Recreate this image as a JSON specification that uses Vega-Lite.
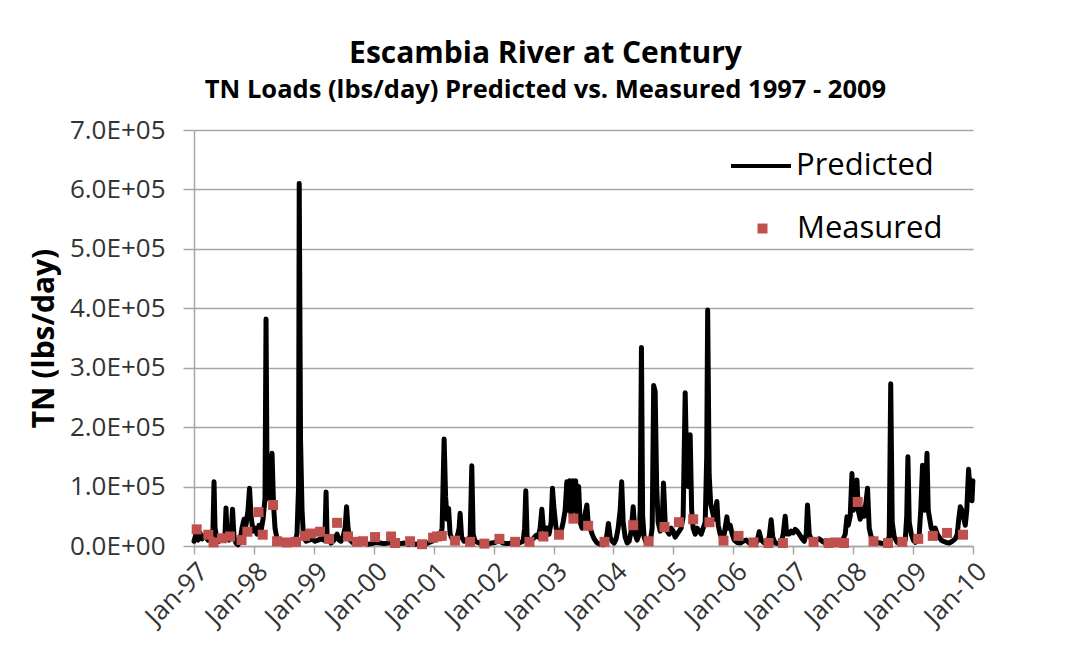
{
  "$schema": "https://vega.github.io/schema/vega-lite/v6.json",
  "autosize": "none",
  "width": 779,
  "height": 416,
  "padding": {"left": 194, "top": 130, "right": 103, "bottom": 104},
  "background": "white",
  "config": {
    "font": "Open Sans",
    "view": {"stroke": null},
    "axis": {"labelFont": "Open Sans", "titleFont": "Open Sans", "labelColor": "#333333", "titleColor": "#000000"}
  },
  "title": {
    "text": "Escambia River at Century",
    "subtitle": "TN Loads (lbs/day) Predicted vs. Measured 1997 - 2009",
    "font": "Open Sans",
    "fontSize": 30,
    "fontWeight": "bold",
    "color": "#000000",
    "subtitleFont": "Open Sans",
    "subtitleFontSize": 25.5,
    "subtitleFontWeight": "bold",
    "subtitleColor": "#000000",
    "subtitlePadding": 9,
    "anchor": "middle",
    "dx": -38,
    "offset": 14
  },
  "datasets": {
    "predicted": [
      {"t":1997.000,"v":8000},{"t":1997.033,"v":20000},{"t":1997.067,"v":10000},{"t":1997.100,"v":22000},{"t":1997.134,"v":12000},{"t":1997.184,"v":18000},{"t":1997.234,"v":10000},{"t":1997.284,"v":15000},{"t":1997.317,"v":30000},{"t":1997.334,"v":108000},{"t":1997.351,"v":30000},{"t":1997.384,"v":12000},{"t":1997.417,"v":8000},{"t":1997.451,"v":15000},{"t":1997.484,"v":10000},{"t":1997.518,"v":20000},{"t":1997.534,"v":64000},{"t":1997.551,"v":20000},{"t":1997.584,"v":10000},{"t":1997.618,"v":15000},{"t":1997.643,"v":62000},{"t":1997.668,"v":15000},{"t":1997.701,"v":5000},{"t":1997.735,"v":2000},{"t":1997.768,"v":8000},{"t":1997.801,"v":30000},{"t":1997.835,"v":45000},{"t":1997.868,"v":35000},{"t":1997.901,"v":60000},{"t":1997.927,"v":97000},{"t":1997.952,"v":50000},{"t":1997.985,"v":25000},
      {"t":1998.018,"v":30000},{"t":1998.052,"v":20000},{"t":1998.085,"v":35000},{"t":1998.118,"v":25000},{"t":1998.152,"v":45000},{"t":1998.185,"v":80000},{"t":1998.202,"v":382000},{"t":1998.219,"v":120000},{"t":1998.244,"v":80000},{"t":1998.269,"v":150000},{"t":1998.285,"v":90000},{"t":1998.302,"v":156000},{"t":1998.327,"v":70000},{"t":1998.352,"v":30000},{"t":1998.386,"v":12000},{"t":1998.436,"v":8000},{"t":1998.486,"v":5000},{"t":1998.536,"v":6000},{"t":1998.586,"v":4000},{"t":1998.636,"v":5000},{"t":1998.686,"v":8000},{"t":1998.719,"v":20000},{"t":1998.745,"v":100000},{"t":1998.756,"v":610000},{"t":1998.778,"v":178000},{"t":1998.803,"v":60000},{"t":1998.828,"v":15000},{"t":1998.870,"v":8000},{"t":1998.920,"v":10000},{"t":1998.970,"v":12000},
      {"t":1999.020,"v":8000},{"t":1999.070,"v":10000},{"t":1999.120,"v":12000},{"t":1999.170,"v":10000},{"t":1999.187,"v":25000},{"t":1999.204,"v":91000},{"t":1999.220,"v":20000},{"t":1999.254,"v":10000},{"t":1999.287,"v":5000},{"t":1999.320,"v":8000},{"t":1999.354,"v":12000},{"t":1999.387,"v":20000},{"t":1999.421,"v":10000},{"t":1999.454,"v":8000},{"t":1999.487,"v":15000},{"t":1999.521,"v":30000},{"t":1999.546,"v":66000},{"t":1999.571,"v":30000},{"t":1999.604,"v":10000},{"t":1999.654,"v":5000},{"t":1999.704,"v":6000},{"t":1999.771,"v":4000},{"t":1999.838,"v":5000},{"t":1999.905,"v":3000},{"t":1999.972,"v":4000},
      {"t":2000.038,"v":6000},{"t":2000.105,"v":5000},{"t":2000.172,"v":4000},{"t":2000.239,"v":5000},{"t":2000.305,"v":6000},{"t":2000.372,"v":3000},{"t":2000.439,"v":4000},{"t":2000.506,"v":5000},{"t":2000.573,"v":3000},{"t":2000.639,"v":4000},{"t":2000.706,"v":3000},{"t":2000.773,"v":4000},{"t":2000.840,"v":3000},{"t":2000.906,"v":5000},{"t":2000.973,"v":8000},
      {"t":2001.040,"v":12000},{"t":2001.107,"v":15000},{"t":2001.140,"v":30000},{"t":2001.174,"v":180000},{"t":2001.199,"v":83000},{"t":2001.224,"v":45000},{"t":2001.249,"v":63000},{"t":2001.274,"v":20000},{"t":2001.307,"v":12000},{"t":2001.357,"v":10000},{"t":2001.391,"v":15000},{"t":2001.424,"v":30000},{"t":2001.441,"v":55000},{"t":2001.466,"v":15000},{"t":2001.507,"v":8000},{"t":2001.557,"v":10000},{"t":2001.608,"v":15000},{"t":2001.636,"v":135000},{"t":2001.658,"v":20000},{"t":2001.691,"v":8000},{"t":2001.758,"v":5000},{"t":2001.825,"v":4000},{"t":2001.891,"v":3000},{"t":2001.958,"v":5000},
      {"t":2002.025,"v":6000},{"t":2002.075,"v":10000},{"t":2002.108,"v":8000},{"t":2002.158,"v":5000},{"t":2002.225,"v":4000},{"t":2002.292,"v":5000},{"t":2002.359,"v":4000},{"t":2002.426,"v":5000},{"t":2002.492,"v":8000},{"t":2002.517,"v":30000},{"t":2002.537,"v":93000},{"t":2002.559,"v":15000},{"t":2002.609,"v":8000},{"t":2002.659,"v":12000},{"t":2002.709,"v":18000},{"t":2002.743,"v":15000},{"t":2002.776,"v":30000},{"t":2002.805,"v":62000},{"t":2002.826,"v":35000},{"t":2002.860,"v":25000},{"t":2002.893,"v":30000},{"t":2002.926,"v":20000},{"t":2002.960,"v":40000},{"t":2002.982,"v":97000},
      {"t":2003.010,"v":60000},{"t":2003.043,"v":30000},{"t":2003.077,"v":20000},{"t":2003.127,"v":25000},{"t":2003.160,"v":40000},{"t":2003.193,"v":60000},{"t":2003.222,"v":108000},{"t":2003.244,"v":60000},{"t":2003.269,"v":110000},{"t":2003.294,"v":50000},{"t":2003.319,"v":110000},{"t":2003.344,"v":60000},{"t":2003.369,"v":110000},{"t":2003.394,"v":50000},{"t":2003.419,"v":100000},{"t":2003.444,"v":40000},{"t":2003.477,"v":30000},{"t":2003.511,"v":45000},{"t":2003.556,"v":69000},{"t":2003.577,"v":40000},{"t":2003.611,"v":30000},{"t":2003.644,"v":20000},{"t":2003.678,"v":12000},{"t":2003.728,"v":5000},{"t":2003.778,"v":3000},{"t":2003.828,"v":2000},{"t":2003.878,"v":10000},{"t":2003.916,"v":38000},{"t":2003.945,"v":15000},{"t":2003.978,"v":8000},
      {"t":2004.011,"v":5000},{"t":2004.045,"v":12000},{"t":2004.078,"v":30000},{"t":2004.112,"v":60000},{"t":2004.137,"v":108000},{"t":2004.162,"v":40000},{"t":2004.195,"v":15000},{"t":2004.229,"v":5000},{"t":2004.262,"v":8000},{"t":2004.295,"v":25000},{"t":2004.329,"v":66000},{"t":2004.362,"v":20000},{"t":2004.395,"v":10000},{"t":2004.429,"v":20000},{"t":2004.446,"v":60000},{"t":2004.467,"v":334000},{"t":2004.487,"v":50000},{"t":2004.512,"v":15000},{"t":2004.546,"v":5000},{"t":2004.579,"v":4000},{"t":2004.612,"v":6000},{"t":2004.646,"v":30000},{"t":2004.671,"v":270000},{"t":2004.696,"v":260000},{"t":2004.721,"v":100000},{"t":2004.746,"v":40000},{"t":2004.780,"v":25000},{"t":2004.813,"v":40000},{"t":2004.835,"v":106000},{"t":2004.863,"v":40000},{"t":2004.896,"v":25000},{"t":2004.930,"v":20000},{"t":2004.963,"v":30000},{"t":2004.997,"v":25000},
      {"t":2005.030,"v":15000},{"t":2005.063,"v":20000},{"t":2005.097,"v":25000},{"t":2005.130,"v":30000},{"t":2005.163,"v":50000},{"t":2005.197,"v":258000},{"t":2005.222,"v":130000},{"t":2005.247,"v":100000},{"t":2005.280,"v":187000},{"t":2005.305,"v":60000},{"t":2005.330,"v":30000},{"t":2005.364,"v":20000},{"t":2005.397,"v":30000},{"t":2005.430,"v":25000},{"t":2005.464,"v":20000},{"t":2005.497,"v":30000},{"t":2005.531,"v":40000},{"t":2005.556,"v":150000},{"t":2005.572,"v":397000},{"t":2005.597,"v":120000},{"t":2005.623,"v":70000},{"t":2005.648,"v":60000},{"t":2005.681,"v":45000},{"t":2005.726,"v":75000},{"t":2005.748,"v":35000},{"t":2005.781,"v":20000},{"t":2005.815,"v":10000},{"t":2005.848,"v":20000},{"t":2005.893,"v":49000},{"t":2005.915,"v":30000},{"t":2005.948,"v":35000},{"t":2005.982,"v":20000},
      {"t":2006.015,"v":10000},{"t":2006.065,"v":6000},{"t":2006.115,"v":5000},{"t":2006.165,"v":8000},{"t":2006.215,"v":10000},{"t":2006.265,"v":5000},{"t":2006.315,"v":3000},{"t":2006.365,"v":5000},{"t":2006.399,"v":8000},{"t":2006.432,"v":24000},{"t":2006.466,"v":10000},{"t":2006.516,"v":5000},{"t":2006.566,"v":8000},{"t":2006.599,"v":15000},{"t":2006.632,"v":44000},{"t":2006.658,"v":15000},{"t":2006.699,"v":5000},{"t":2006.749,"v":4000},{"t":2006.799,"v":6000},{"t":2006.833,"v":20000},{"t":2006.866,"v":50000},{"t":2006.891,"v":20000},{"t":2006.933,"v":20000},{"t":2006.966,"v":25000},
      {"t":2007.000,"v":22000},{"t":2007.033,"v":28000},{"t":2007.067,"v":25000},{"t":2007.100,"v":20000},{"t":2007.150,"v":12000},{"t":2007.183,"v":8000},{"t":2007.217,"v":20000},{"t":2007.238,"v":69000},{"t":2007.267,"v":20000},{"t":2007.300,"v":12000},{"t":2007.334,"v":8000},{"t":2007.384,"v":10000},{"t":2007.434,"v":12000},{"t":2007.484,"v":8000},{"t":2007.534,"v":5000},{"t":2007.584,"v":4000},{"t":2007.634,"v":3000},{"t":2007.684,"v":4000},{"t":2007.734,"v":5000},{"t":2007.784,"v":8000},{"t":2007.834,"v":12000},{"t":2007.868,"v":20000},{"t":2007.896,"v":49000},{"t":2007.918,"v":35000},{"t":2007.951,"v":50000},{"t":2007.980,"v":122000},
      {"t":2008.001,"v":60000},{"t":2008.035,"v":70000},{"t":2008.063,"v":111000},{"t":2008.085,"v":60000},{"t":2008.118,"v":45000},{"t":2008.152,"v":64000},{"t":2008.185,"v":50000},{"t":2008.210,"v":70000},{"t":2008.240,"v":97000},{"t":2008.268,"v":30000},{"t":2008.302,"v":15000},{"t":2008.352,"v":10000},{"t":2008.402,"v":6000},{"t":2008.452,"v":5000},{"t":2008.502,"v":4000},{"t":2008.552,"v":6000},{"t":2008.602,"v":15000},{"t":2008.627,"v":273000},{"t":2008.652,"v":40000},{"t":2008.686,"v":15000},{"t":2008.736,"v":6000},{"t":2008.786,"v":4000},{"t":2008.836,"v":5000},{"t":2008.869,"v":10000},{"t":2008.894,"v":50000},{"t":2008.914,"v":150000},{"t":2008.936,"v":40000},{"t":2008.970,"v":20000},
      {"t":2009.003,"v":10000},{"t":2009.036,"v":6000},{"t":2009.070,"v":8000},{"t":2009.103,"v":20000},{"t":2009.128,"v":60000},{"t":2009.158,"v":136000},{"t":2009.187,"v":60000},{"t":2009.212,"v":100000},{"t":2009.232,"v":156000},{"t":2009.253,"v":60000},{"t":2009.278,"v":45000},{"t":2009.303,"v":30000},{"t":2009.337,"v":25000},{"t":2009.370,"v":30000},{"t":2009.404,"v":20000},{"t":2009.437,"v":15000},{"t":2009.470,"v":10000},{"t":2009.504,"v":8000},{"t":2009.554,"v":6000},{"t":2009.604,"v":5000},{"t":2009.654,"v":8000},{"t":2009.704,"v":12000},{"t":2009.737,"v":20000},{"t":2009.762,"v":45000},{"t":2009.788,"v":66000},{"t":2009.816,"v":60000},{"t":2009.838,"v":50000},{"t":2009.871,"v":35000},{"t":2009.896,"v":60000},{"t":2009.926,"v":129000},{"t":2009.955,"v":90000},{"t":2009.983,"v":76000},{"t":2009.998,"v":110000}
    ],
    "measured": [
      {"t":1997.045,"v":28000},{"t":1997.239,"v":19000},{"t":1997.326,"v":6000},{"t":1997.467,"v":13000},{"t":1997.601,"v":16000},{"t":1997.793,"v":10000},{"t":1997.890,"v":24000},{"t":1998.077,"v":57000},{"t":1998.147,"v":19000},{"t":1998.319,"v":69000},{"t":1998.386,"v":8000},{"t":1998.548,"v":6000},{"t":1998.703,"v":7000},{"t":1998.853,"v":17000},{"t":1998.953,"v":21000},{"t":1999.103,"v":24000},{"t":1999.254,"v":12000},{"t":1999.387,"v":39000},{"t":1999.571,"v":16000},{"t":1999.721,"v":7000},{"t":1999.821,"v":8000},{"t":2000.022,"v":15000},{"t":2000.289,"v":16000},{"t":2000.356,"v":5000},{"t":2000.606,"v":8000},{"t":2000.806,"v":3000},{"t":2000.990,"v":14000},{"t":2001.052,"v":16000},{"t":2001.135,"v":17000},{"t":2001.357,"v":9000},{"t":2001.608,"v":7000},{"t":2001.846,"v":4000},{"t":2002.097,"v":12000},{"t":2002.359,"v":7000},{"t":2002.598,"v":7000},{"t":2002.831,"v":16000},{"t":2003.090,"v":19000},{"t":2003.332,"v":46000},{"t":2003.577,"v":34000},{"t":2003.850,"v":7000},{"t":2004.329,"v":35000},{"t":2004.587,"v":8000},{"t":2004.851,"v":32000},{"t":2005.092,"v":40000},{"t":2005.330,"v":45000},{"t":2005.602,"v":40000},{"t":2005.836,"v":9000},{"t":2006.087,"v":17000},{"t":2006.337,"v":6000},{"t":2006.587,"v":5000},{"t":2006.828,"v":5000},{"t":2007.339,"v":7000},{"t":2007.589,"v":5000},{"t":2007.701,"v":6000},{"t":2007.848,"v":5000},{"t":2008.076,"v":74000},{"t":2008.340,"v":8000},{"t":2008.581,"v":5000},{"t":2008.819,"v":7000},{"t":2009.086,"v":12000},{"t":2009.329,"v":17000},{"t":2009.567,"v":22000},{"t":2009.833,"v":19000}
    ]
  },
  "encoding": {
    "x": {
      "field": "t",
      "type": "quantitative",
      "scale": {"domain": [1997, 2010], "nice": false, "zero": false},
      "axis": {
        "title": null,
        "values": [1997,1998,1999,2000,2001,2002,2003,2004,2005,2006,2007,2008,2009,2010],
        "labelExpr": "'Jan-' + format(datum.value % 100, '02d')",
        "labelOverlap": false,
        "grid": false,
        "labelAngle": -45,
        "labelFontSize": 26,
        "labelPadding": 4,
        "tickSize": 8,
        "tickColor": "#A6A6A6",
        "domainColor": "#A6A6A6",
        "domainWidth": 1.5,
        "tickWidth": 1.5
      }
    },
    "y": {
      "field": "v",
      "type": "quantitative",
      "scale": {"domain": [0, 700000], "nice": false},
      "axis": {
        "title": "TN (lbs/day)",
        "titleFontSize": 30,
        "titleFontWeight": "bold",
        "titlePadding": 10,
        "values": [0,100000,200000,300000,400000,500000,600000,700000],
        "labelExpr": "format(datum.value / 100000, '.1f') + (datum.value == 0 ? 'E+00' : 'E+05')",
        "labelOverlap": false,
        "labelFontSize": 26,
        "labelPadding": 18,
        "tickSize": 11,
        "tickColor": "#A6A6A6",
        "tickWidth": 1.5,
        "domainColor": "#A6A6A6",
        "domainWidth": 1.5,
        "grid": true,
        "gridColor": "#A6A6A6",
        "gridWidth": 1.5
      }
    }
  },
  "layer": [
    {
      "data": {"name": "predicted"},
      "mark": {"type": "line", "strokeWidth": 5, "strokeJoin": "round", "strokeCap": "round"},
      "encoding": {
        "stroke": {
          "datum": "Predicted",
          "type": "nominal",
          "scale": {"domain": ["Predicted"], "range": ["#000000"]},
          "legend": {
            "title": null,
            "orient": "none",
            "legendX": 535,
            "legendY": 4,
            "symbolType": "stroke",
            "symbolSize": 3600,
            "symbolStrokeWidth": 4,
            "symbolStrokeColor": "#000000",
            "labelFontSize": 31,
            "labelFont": "Open Sans",
            "labelColor": "#000000",
            "labelOffset": 3
          }
        }
      }
    },
    {
      "data": {"name": "measured"},
      "mark": {"type": "square", "size": 100, "opacity": 1},
      "encoding": {
        "color": {
          "datum": "Measured",
          "type": "nominal",
          "scale": {"domain": ["Measured"], "range": ["#C0504D"]},
          "legend": {
            "title": null,
            "orient": "none",
            "legendX": 553,
            "legendY": 83,
            "symbolType": "square",
            "symbolSize": 100,
            "symbolOpacity": 1,
            "labelFontSize": 31,
            "labelFont": "Open Sans",
            "labelColor": "#000000",
            "labelOffset": 19
          }
        }
      }
    }
  ]
}
